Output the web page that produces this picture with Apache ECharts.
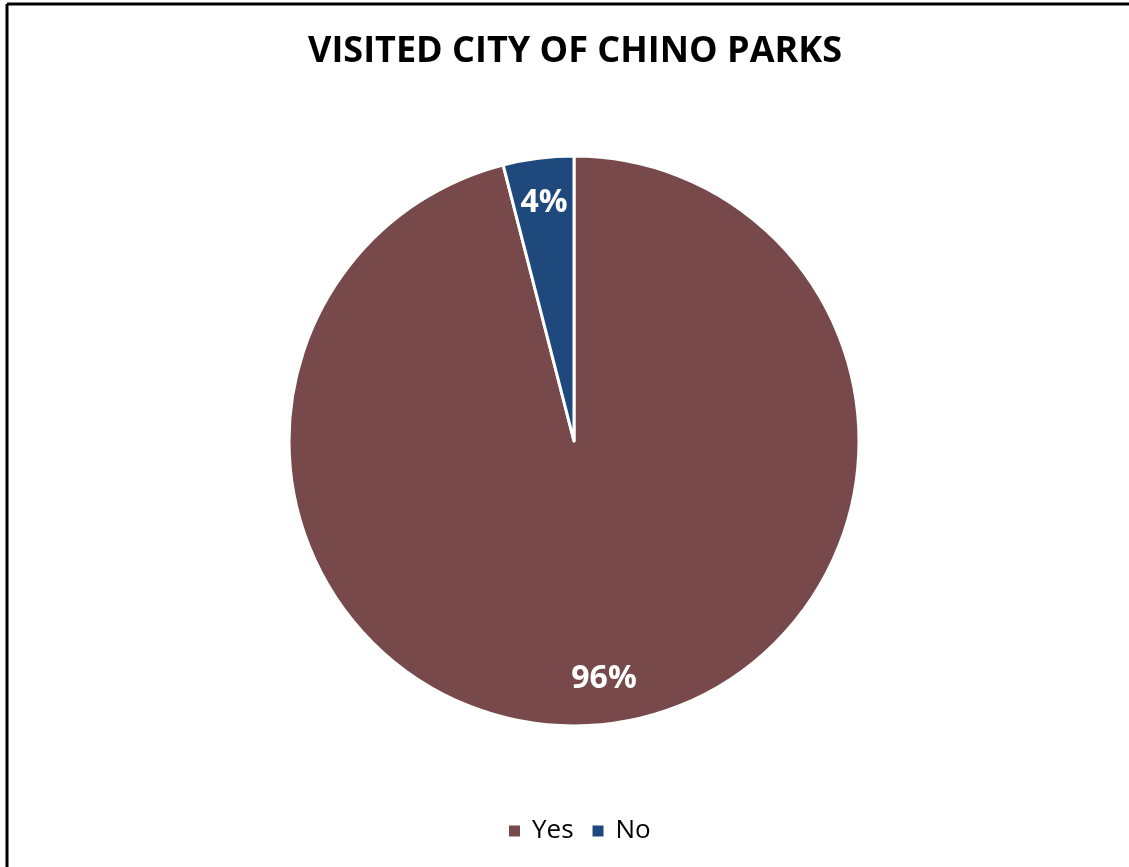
<!DOCTYPE html>
<html>
<head>
<meta charset="utf-8">
<title>Visited City of Chino Parks</title>
<script src="https://cdn.jsdelivr.net/npm/echarts@6/dist/echarts.min.js"></script>
<style>
  html, body { margin: 0; padding: 0; background: #ffffff; }
  #chart { width: 1129px; height: 867px; }
</style>
</head>
<body>
<div id="chart"></div>
<script>
// Survey answers and their shares (percent)
const categories = ['Yes', 'No'];
const shares = [96, 4];
const sliceColors = ['#77494A', '#1F497D'];

const chart = echarts.init(document.getElementById('chart'), null, { renderer: 'canvas' });

const RADIUS = 285;
const total = shares.reduce((a, b) => a + b, 0);

// Mid-angle of each slice, measured clockwise from 12 o'clock
function midAngle(idx) {
  let before = 0;
  for (let i = 0; i < idx; i++) before += shares[i];
  return ((before + shares[idx] / 2) / total) * 2 * Math.PI;
}

chart.setOption({
  backgroundColor: '#ffffff',
  animation: false,
  title: {
    text: 'VISITED CITY OF CHINO PARKS',
    left: 303,
    top: 29,
    textStyle: {
      fontFamily: 'Open Sans',
      fontWeight: 'bold',
      fontSize: 36,
      color: '#000000'
    }
  },
  legend: {
    data: categories,
    bottom: 18,
    left: 502,
    icon: 'rect',
    itemWidth: 13,
    itemHeight: 13,
    itemGap: 17,
    textStyle: { fontFamily: 'Open Sans', fontSize: 26, color: '#000000', padding: [0, 0, 0, 6] }
  },
  graphic: [
    { type: 'line', shape: { x1: 7, y1: 4, x2: 1129, y2: 4 }, style: { stroke: '#000', lineWidth: 3 } },
    { type: 'line', shape: { x1: 7, y1: 4, x2: 7, y2: 867 }, style: { stroke: '#000', lineWidth: 3 } }
  ],
  series: [{
    type: 'pie',
    center: [574, 441],
    radius: [0, RADIUS],
    startAngle: 90,
    clockwise: true,
    avoidLabelOverlap: false,
    itemStyle: { borderColor: '#ffffff', borderWidth: 3 },
    label: {
      show: true,
      position: 'inside',
      formatter: p => shares[p.dataIndex] + '%',
      color: '#ffffff',
      fontFamily: 'Open Sans',
      fontWeight: 'bold',
      fontSize: 32
    },
    // push the labels outward, from half the radius to about 0.83 of it
    labelLayout: function (params) {
      const a = midAngle(params.dataIndex);
      const shift = RADIUS * 0.33;
      return { dx: shift * Math.sin(a), dy: -shift * Math.cos(a) };
    },
    labelLine: { show: false },
    data: categories.map((name, i) => ({
      name: name,
      value: shares[i],
      itemStyle: { color: sliceColors[i] }
    }))
  }]
});
</script>
</body>
</html>
